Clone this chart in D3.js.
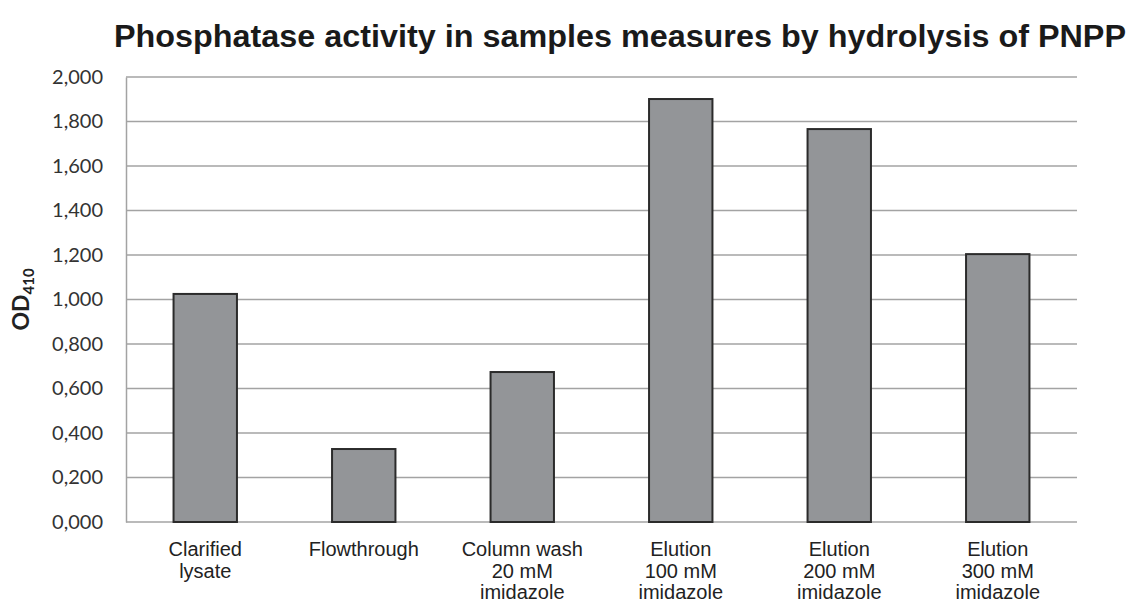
<!DOCTYPE html>
<html>
<head>
<meta charset="utf-8">
<script src="https://cdn.jsdelivr.net/npm/d3@7"></script>
<style>
  body { margin: 0; background: #fff; }
  .tick text { font-family: Lato, "Open Sans", sans-serif; font-size: 20px; fill: #333; }
</style>
</head>
<body>
<div id="graf"></div>
<script>
// datos
const muestras = [
  ["Clarified", "lysate"],
  ["Flowthrough"],
  ["Column wash", "20 mM", "imidazole"],
  ["Elution", "100 mM", "imidazole"],
  ["Elution", "200 mM", "imidazole"],
  ["Elution", "300 mM", "imidazole"]
]
const od410 = [1.025, 0.328, 0.674, 1.901, 1.766, 1.204]
const ticksY = [0, 0.2, 0.4, 0.6, 0.8, 1.0, 1.2, 1.4, 1.6, 1.8, 2.0]

const anchoTotal = 1137
const altoTotal = 602
const margins = { top: 77, right: 60, bottom: 80, left: 126 }
const ancho = anchoTotal - margins.left - margins.right
const alto = altoTotal - margins.top - margins.bottom

const svg = d3.select("#graf")
  .append("svg")
  .attr("width", anchoTotal)
  .attr("height", altoTotal)

const g = svg.append("g")
  .attr("transform", `translate(${margins.left}, ${margins.top})`)

const idx = d3.range(od410.length)

// Escaladores
const x = d3.scaleBand()
  .domain(idx)
  .range([0, ancho])
  .paddingInner(0.6)
  .paddingOuter(0.3)

const y = d3.scaleLinear()
  .domain([0, 2])
  .range([alto, 0])

// lineas de la rejilla
g.selectAll("line.grid")
  .data(ticksY)
  .enter()
  .append("line")
  .attr("class", "grid")
  .attr("x1", 0)
  .attr("x2", ancho)
  .attr("y1", d => y(d))
  .attr("y2", d => y(d))
  .attr("stroke", "#a3a3a3")
  .attr("stroke-width", 1.5)

// eje y, formato 1,800 como en el original
const yAxis = d3.axisLeft(y)
  .tickValues(ticksY)
  .tickSize(0)
  .tickPadding(23)
  .tickFormat(d => d3.format(".3f")(d).replace(".", ","))

const yAxisGroup = g.append("g").call(yAxis)
yAxisGroup.select(".domain").attr("stroke", "#a3a3a3").attr("stroke-width", 1.5)

// barras
g.selectAll("rect.bar")
  .data(idx)
  .enter()
  .append("rect")
  .attr("class", "bar")
  .attr("x", i => x(i))
  .attr("y", i => y(od410[i]))
  .attr("width", x.bandwidth())
  .attr("height", i => alto - y(od410[i]))
  .attr("fill", "#939598")
  .attr("stroke", "#2b2b2b")
  .attr("stroke-width", 2)

// etiquetas de categorias
const etiquetas = g.selectAll("text.cat")
  .data(idx)
  .enter()
  .append("text")
  .attr("class", "cat")
  .attr("text-anchor", "middle")
  .attr("font-family", "Liberation Sans, Arial, sans-serif")
  .attr("font-size", "20px")
  .attr("fill", "#222")
  .attr("transform", i => `translate(${x(i) + x.bandwidth() / 2}, ${alto + 34})`)

etiquetas.selectAll("tspan")
  .data(i => muestras[i])
  .enter()
  .append("tspan")
  .attr("x", 0)
  .attr("y", (d, j) => j * 21.5)
  .text(d => d)

// titulo
svg.append("text")
  .attr("x", 620)
  .attr("y", 47)
  .attr("text-anchor", "middle")
  .attr("font-family", "Liberation Sans, Arial, sans-serif")
  .attr("font-weight", "bold")
  .attr("font-size", "31px")
  .attr("textLength", 1012)
  .attr("lengthAdjust", "spacingAndGlyphs")
  .attr("fill", "#1a1a1a")
  .text("Phosphatase activity in samples measures by hydrolysis of PNPP")

// titulo eje y
const ylab = svg.append("text")
  .attr("transform", `translate(29, ${margins.top + y(1)}) rotate(-90)`)
  .attr("text-anchor", "middle")
  .attr("font-family", "Lato, sans-serif")
  .attr("font-weight", "bold")
  .attr("font-size", "23px")
  .attr("fill", "#222")
ylab.append("tspan").text("OD")
ylab.append("tspan").attr("font-size", "15px").attr("dy", 5).text("410")
</script>
</body>
</html>
